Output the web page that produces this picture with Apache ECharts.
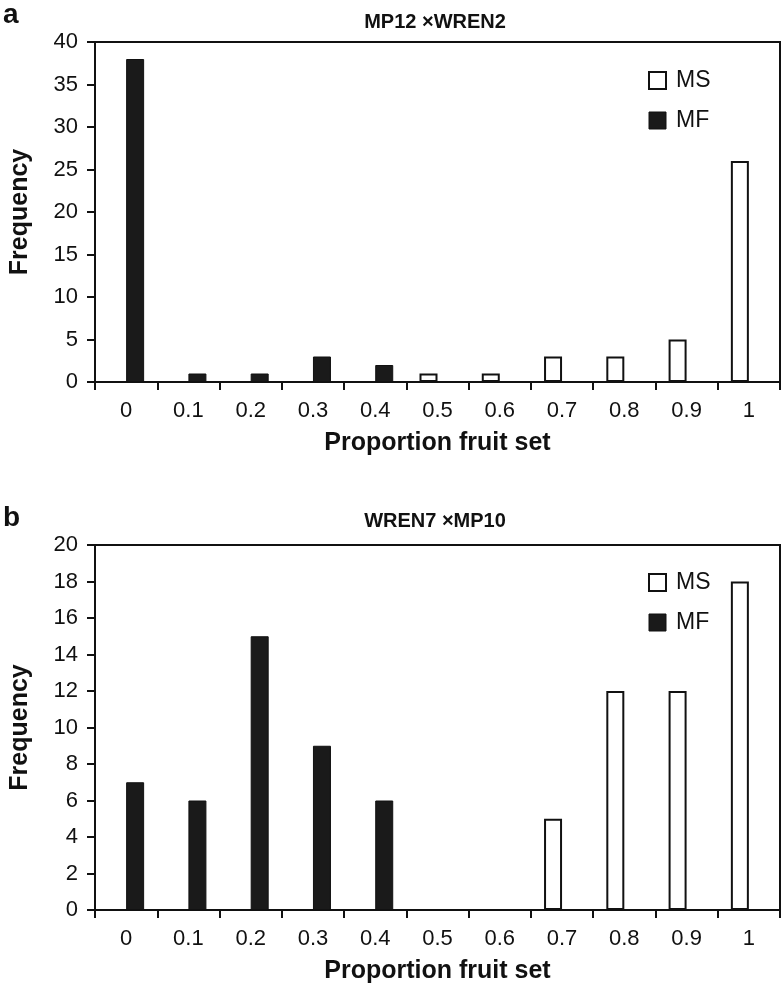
<!DOCTYPE html>
<html><head><meta charset="utf-8">
<script src="https://cdn.jsdelivr.net/npm/echarts@6/dist/echarts.min.js"></script>
<style>html,body{margin:0;padding:0;background:#fff}#c{width:783px;height:993px}</style>
</head><body><div id="c"></div>
<script>
const categories = ['0','0.1','0.2','0.3','0.4','0.5','0.6','0.7','0.8','0.9','1'];
const msA = [null,null,null,null,null,1,1,3,3,5,26];
const mfA = [38,1,1,3,2,null,null,null,null,null,null];
const msB = [null,null,null,null,null,null,null,5,12,12,18];
const mfB = [7,6,15,9,6,null,null,null,null,null,null];
const titleA = 'MP12 ×WREN2';
const titleB = 'WREN7 ×MP10';

const FONT = '"Liberation Sans", Arial, sans-serif';
const chart = echarts.init(document.getElementById('c'), null, {renderer:'canvas'});

function xAx(gi){
  return {type:'category', gridIndex:gi, data:categories, boundaryGap:true,
    axisLine:{lineStyle:{color:'#111',width:2}},
    axisTick:{show:true, interval:0, alignWithLabel:false, length:8, inside:false, lineStyle:{color:'#111',width:2}},
    axisLabel:{interval:0, color:'#111', fontFamily:FONT, fontSize:22, margin:18},
    name:'Proportion fruit set', nameLocation:'middle', nameGap:49,
    nameTextStyle:{fontFamily:FONT, fontSize:25, fontWeight:'bold', color:'#111'}};
}
function yAx(gi,max,intv){
  return {type:'value', gridIndex:gi, min:0, max:max, interval:intv,
    axisLine:{show:true, lineStyle:{color:'#111',width:2}},
    axisTick:{show:true, length:8, lineStyle:{color:'#111',width:2}},
    splitLine:{show:false},
    axisLabel:{color:'#111', fontFamily:FONT, fontSize:22, margin:17},
    name:'Frequency', nameLocation:'middle', nameRotate:90, nameGap:62,
    nameTextStyle:{fontFamily:FONT, fontSize:25, fontWeight:'bold', color:'#111'}};
}
const msStyle = {color:'#fff', borderColor:'#111', borderWidth:2};
const mfStyle = {color:'#1a1a1a', borderColor:'#111', borderWidth:1};

function legendAt(top){
  return {orient:'vertical', left:648, top:top, padding:0, itemWidth:17, itemHeight:17, itemGap:17, icon:'rect',
    textStyle:{fontFamily:FONT, fontSize:23, lineHeight:17, color:'#111', padding:[0,0,0,5]},
    data:[{name:'MS', itemStyle:msStyle},{name:'MF', itemStyle:mfStyle}]};
}

chart.setOption({
  animation:false,
  title:[
    {text:titleA, left:435, top:12, padding:0, textAlign:'center', textStyle:{fontFamily:FONT, fontSize:20, fontWeight:'bold', color:'#111'}},
    {text:titleB, left:435, top:511, padding:0, textAlign:'center', textStyle:{fontFamily:FONT, fontSize:20, fontWeight:'bold', color:'#111'}}
  ],
  graphic:[
    {type:'text', left:3, top:1, style:{text:'a', font:'bold 28px '+FONT, fill:'#111'}},
    {type:'text', left:3, top:504, style:{text:'b', font:'bold 28px '+FONT, fill:'#111'}}
  ],
  grid:[
    {left:91, top:42, width:689, height:340, show:true, borderColor:'#111', borderWidth:2, backgroundColor:'transparent'},
    {left:91, top:545, width:689, height:365, show:true, borderColor:'#111', borderWidth:2, backgroundColor:'transparent'}
  ],
  legend:[legendAt(69), legendAt(571)],
  xAxis:[xAx(0), xAx(1)],
  yAxis:[yAx(0,40,5), yAx(1,20,2)],
  series:[
    {name:'MS', type:'bar', xAxisIndex:0, yAxisIndex:0, data:msA, barWidth:18, barGap:'0%', itemStyle:msStyle},
    {name:'MF', type:'bar', xAxisIndex:0, yAxisIndex:0, data:mfA, barWidth:18, barGap:'0%', itemStyle:mfStyle},
    {name:'MS', type:'bar', xAxisIndex:1, yAxisIndex:1, data:msB, barWidth:18, barGap:'0%', itemStyle:msStyle},
    {name:'MF', type:'bar', xAxisIndex:1, yAxisIndex:1, data:mfB, barWidth:18, barGap:'0%', itemStyle:mfStyle}
  ]
});
</script></body></html>
